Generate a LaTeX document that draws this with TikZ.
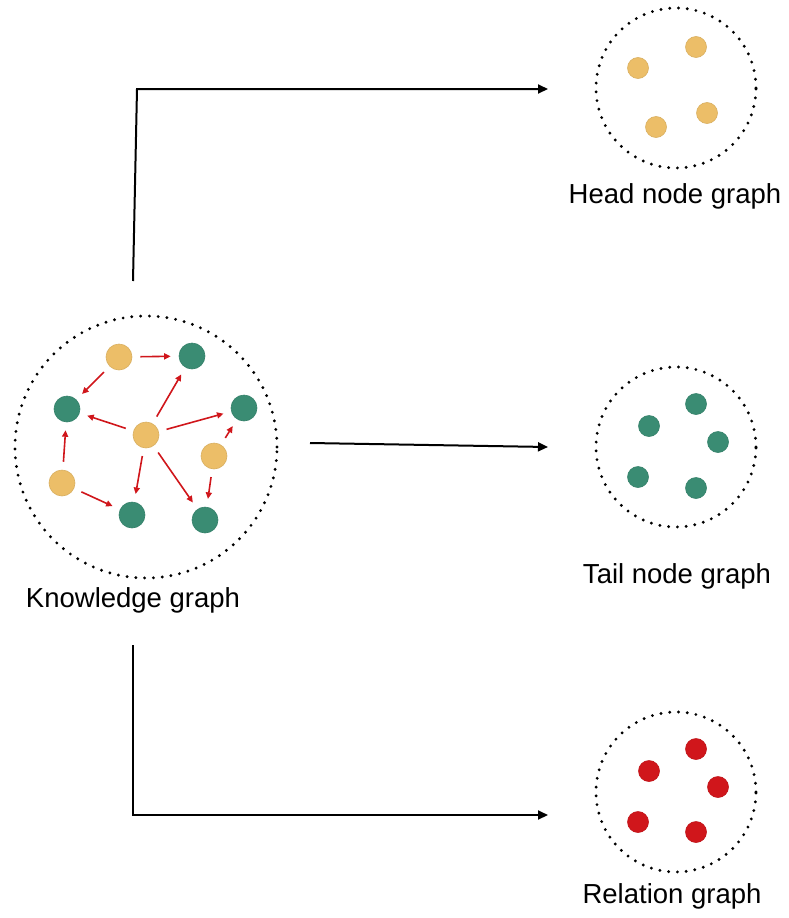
\documentclass[tikz,border=0pt]{standalone}
\usepackage{fontspec}
\setmainfont{Liberation Sans}
\usetikzlibrary{arrows.meta}
\definecolor{kgyellow}{RGB}{236,190,104}
\definecolor{kggreen}{RGB}{58,140,115}
\definecolor{kgred}{RGB}{208,22,27}
\tikzstyle{yent} = [circle, minimum size=26pt, inner sep=0pt, fill=kgyellow, draw=kgyellow!92!black, line width=0.6pt]
\tikzstyle{gent} = [circle, minimum size=26pt, inner sep=0pt, fill=kggreen, draw=kggreen!92!black, line width=0.6pt]
\tikzstyle{hnode} = [circle, minimum size=21pt, inner sep=0pt, fill=kgyellow, draw=kgyellow!92!black, line width=0.6pt]
\tikzstyle{tnode} = [circle, minimum size=21pt, inner sep=0pt, fill=kggreen, draw=kggreen!92!black, line width=0.6pt]
\tikzstyle{rnode} = [circle, minimum size=21pt, inner sep=0pt, fill=kgred, draw=kgred!92!black, line width=0.6pt]
\tikzstyle{dotring} = [circle, draw=black, line width=3.2pt, dash pattern=on 0pt off 8.8pt, line cap=round, inner sep=0pt]
\tikzstyle{gname} = [anchor=base, font=\fontsize{27.5}{33}\selectfont]
\tikzstyle{arrow} = [line width=2pt, -{Triangle[length=10pt,width=9pt]}]
\tikzstyle{relarrow} = [line width=1.6pt, draw=kgred, -{Triangle[length=6.5pt,width=6pt]}, shorten >=8pt, shorten <=8pt]

\begin{document}
\begin{tikzpicture}[x=1pt,y=-1pt]
\useasboundingbox (0,0) rectangle (788,918);
% knowledge graph
\node (kg) [dotring, minimum size=262pt] at (146,447) {};
\node (y1) [yent] at (119,357) {};
\node (g1) [gent] at (192,356) {};
\node (g2) [gent] at (67,409) {};
\node (g3) [gent] at (244,408) {};
\node (y2) [yent] at (146,435) {};
\node (y3) [yent] at (214,456) {};
\node (y4) [yent] at (62,483) {};
\node (g4) [gent] at (132,515) {};
\node (g5) [gent] at (205,520) {};
\node (kgname) [gname] at (133,607) {Knowledge graph};
\draw [relarrow] (y1) -- (g1);
\draw [relarrow] (y1) -- (g2);
\draw [relarrow] (y2) -- (g1);
\draw [relarrow] (y2) -- (g2);
\draw [relarrow] (y2) -- (g3);
\draw [relarrow] (y2) -- (g4);
\draw [relarrow] (y2) -- (g5);
\draw [relarrow] (y3) -- (g3);
\draw [relarrow] (y3) -- (g5);
\draw [relarrow] (y4) -- (g2);
\draw [relarrow] (y4) -- (g4);

% head node graph
\node (hg) [dotring, minimum size=160pt] at (676,88) {};
\node (h1) [hnode] at (638,68) {};
\node (h2) [hnode] at (696,47) {};
\node (h3) [hnode] at (707,113) {};
\node (h4) [hnode] at (656,127) {};
\node (hgname) [gname] at (675,203) {Head node graph};

% tail node graph
\node (tg) [dotring, minimum size=160pt] at (676,447) {};
\node (t1) [tnode] at (649,426) {};
\node (t2) [tnode] at (696,404) {};
\node (t3) [tnode] at (718,442) {};
\node (t4) [tnode] at (638,477) {};
\node (t5) [tnode] at (696,488) {};
\node (tgname) [gname] at (677,583) {Tail node graph};

% relation graph
\node (rg) [dotring, minimum size=160pt] at (676,792) {};
\node (r1) [rnode] at (649,771) {};
\node (r2) [rnode] at (696,749) {};
\node (r3) [rnode] at (718,787) {};
\node (r4) [rnode] at (638,822) {};
\node (r5) [rnode] at (696,832) {};
\node (rgname) [gname] at (672,903) {Relation graph};

% split arrows
\coordinate (kgtop) at (133,281);
\coordinate (topturn) at (137,89);
\coordinate (headin) at (548,89);
\coordinate (kgright) at (310,443);
\coordinate (tailin) at (548,447);
\coordinate (kgbottom) at (133,645);
\coordinate (bottomturn) at (133,815);
\coordinate (relin) at (548,815);
\draw [arrow] (kgtop) -- (topturn) -- (headin);
\draw [arrow] (kgright) -- (tailin);
\draw [arrow] (kgbottom) -- (bottomturn) -- (relin);
\end{tikzpicture}
\end{document}
